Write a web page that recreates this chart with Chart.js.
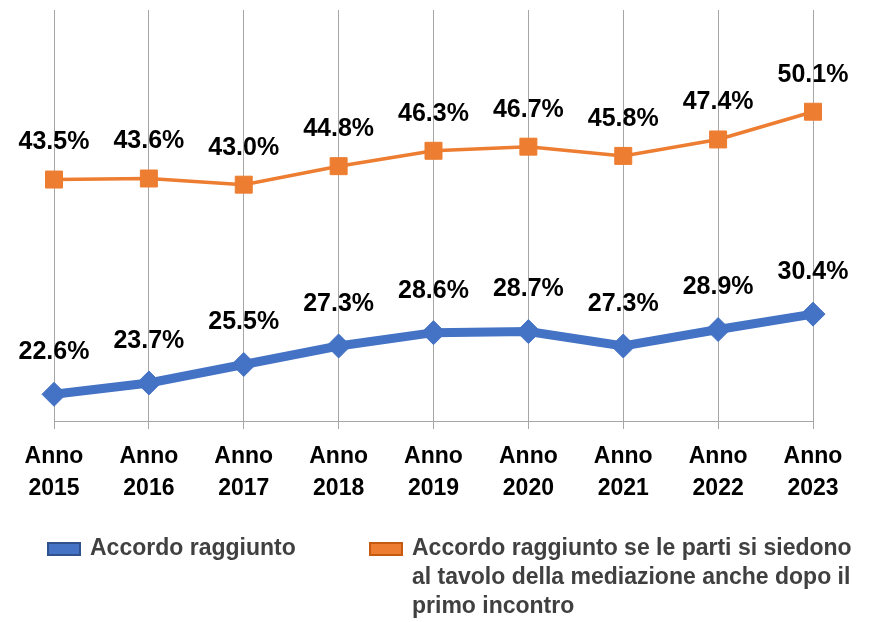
<!DOCTYPE html>
<html>
<head>
<meta charset="utf-8">
<script src="https://cdn.jsdelivr.net/npm/chart.js@4"></script>
<style>
  html, body { margin: 0; padding: 0; background: #ffffff; }
  #wrap { width: 879px; height: 622px; }
</style>
</head>
<body>
<div id="wrap"><canvas id="chart" width="879" height="622"></canvas></div>
<script>
// categories (two-line tick labels)
const categories = [
    ['Anno', '2015'], ['Anno', '2016'], ['Anno', '2017'], ['Anno', '2018'], ['Anno', '2019'],
    ['Anno', '2020'], ['Anno', '2021'], ['Anno', '2022'], ['Anno', '2023']
];

// series values (%)
const accordoRaggiunto = [22.6, 23.7, 25.5, 27.3, 28.6, 28.7, 27.3, 28.9, 30.4];
const accordoSeSiedono = [43.5, 43.6, 43.0, 44.8, 46.3, 46.7, 45.8, 47.4, 50.1];

// legend texts, already split on lines like in the original
const legendBlue = ['Accordo raggiunto'];
const legendOrange = [
    'Accordo raggiunto se le parti si siedono',
    'al tavolo della mediazione anche dopo il',
    'primo incontro'
];

const BLUE = '#4472C4';
const ORANGE = '#ED7D31';
const FONT = '"Liberation Sans", Arial, sans-serif';

// value labels above every point
const valueLabels = {
    id: 'valueLabels',
    afterDatasetsDraw(chart) {
        const ctx = chart.ctx;
        ctx.save();
        ctx.font = 'bold 25px ' + FONT;
        ctx.fillStyle = '#000000';
        ctx.textAlign = 'center';
        ctx.textBaseline = 'middle';
        chart.data.datasets.forEach((ds, i) => {
            const meta = chart.getDatasetMeta(i);
            meta.data.forEach((pt, j) => {
                ctx.fillText(ds.data[j].toFixed(1) + '%', pt.x, pt.y - ds.labelOffset);
            });
        });
        ctx.restore();
    }
};

// legend drawn below the axis, with wrapped text
const wrappedLegend = {
    id: 'wrappedLegend',
    afterDraw(chart) {
        const ctx = chart.ctx;
        ctx.save();
        ctx.font = 'bold 23px ' + FONT;
        ctx.textBaseline = 'middle';
        ctx.textAlign = 'left';

        const items = [
            { x: 48, color: BLUE, border: '#2F528F', lines: legendBlue },
            { x: 370, color: ORANGE, border: '#C55A11', lines: legendOrange }
        ];
        items.forEach(item => {
            const top = 549;
            ctx.fillStyle = item.color;
            ctx.fillRect(item.x, top - 6, 32, 12);
            ctx.strokeStyle = item.border;
            ctx.lineWidth = 2;
            ctx.strokeRect(item.x, top - 6, 32, 12);
            ctx.fillStyle = '#404040';
            item.lines.forEach((line, k) => {
                ctx.fillText(line, item.x + 42, top + k * 29);
            });
        });
        ctx.restore();
    }
};

const ctx = document.getElementById('chart').getContext('2d');

new Chart(ctx, {
    type: 'line',
    data: {
        labels: categories,
        datasets: [
            {
                label: legendBlue.join(' '),
                data: accordoRaggiunto,
                borderColor: BLUE,
                backgroundColor: BLUE,
                borderWidth: 9,
                pointStyle: 'rectRot',
                pointRadius: 12,
                pointBorderWidth: 1,
                pointBackgroundColor: BLUE,
                pointBorderColor: BLUE,
                tension: 0,
                labelOffset: 42
            },
            {
                label: legendOrange.join(' '),
                data: accordoSeSiedono,
                borderColor: ORANGE,
                backgroundColor: ORANGE,
                borderWidth: 3.5,
                pointStyle: 'rect',
                pointRadius: 12,
                pointBorderWidth: 1,
                pointBackgroundColor: ORANGE,
                pointBorderColor: ORANGE,
                tension: 0,
                labelOffset: 37
            }
        ]
    },
    options: {
        responsive: false,
        animation: false,
        layout: {
            autoPadding: false,
            padding: { left: 54, right: 66, top: 10, bottom: 0 }
        },
        scales: {
            x: {
                offset: false,
                grid: {
                    color: '#a6a6a6',
                    lineWidth: 1,
                    drawTicks: true,
                    tickLength: 8,
                    tickColor: '#a6a6a6'
                },
                border: { display: true, color: '#a6a6a6', width: 1 },
                ticks: {
                    color: '#000000',
                    padding: 12,
                    maxRotation: 0,
                    autoSkip: false,
                    font: { family: FONT, size: 23, weight: 'bold', lineHeight: '32px' }
                },
                afterFit: function (scale) {
                    scale.height = 201;
                }
            },
            y: {
                display: false,
                min: 20,
                max: 60
            }
        },
        plugins: {
            legend: { display: false },
            tooltip: { enabled: false }
        }
    },
    plugins: [valueLabels, wrappedLegend]
});
</script>
</body>
</html>
